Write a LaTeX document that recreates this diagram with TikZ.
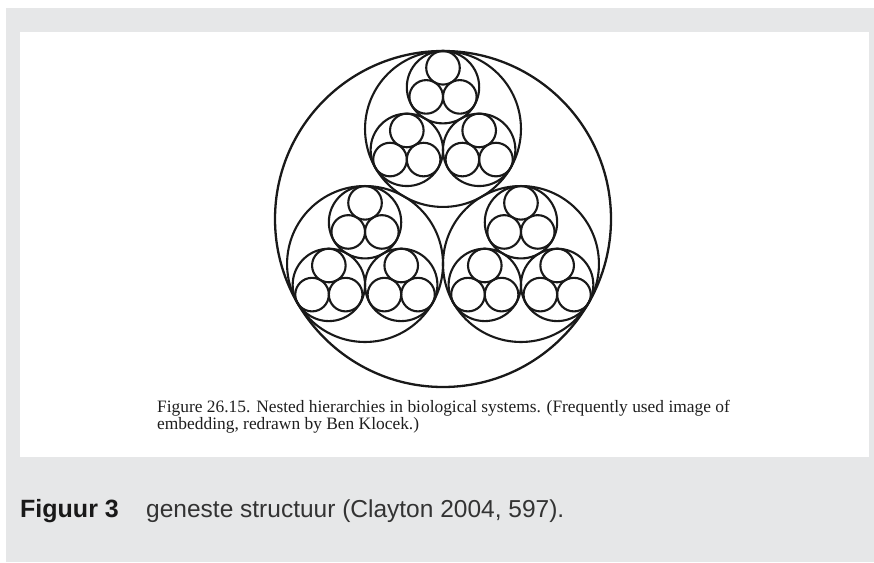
\documentclass[tikz,border=0pt]{standalone}
\usepackage{fontspec}
\setmainfont{Liberation Serif}
\newfontfamily\capsans{Liberation Sans}
\definecolor{panelgray}{HTML}{E6E7E8}
\tikzset{
  ring/.style={draw=black!90, line width=2.1pt},
  outerring/.style={draw=black!90, line width=2.3pt},
  scan/.style={font=\fontsize{17.4}{17}\selectfont, anchor=base west, inner sep=0pt, text=black!88},
  figlabel/.style={font=\capsans\bfseries\fontsize{25}{26}\selectfont, anchor=base west, inner sep=0pt, text=black!90},
  figtext/.style={font=\capsans\fontsize{24.5}{26}\selectfont, anchor=base west, inner sep=0pt, text=black!80}
}
\begin{document}
\begin{tikzpicture}[x=1pt,y=-1pt]
\useasboundingbox (0,0) rectangle (874,562);
\fill[white] (0,0) rectangle (874,562);
\fill[panelgray] (6,8) rectangle (874,562);
\fill[white] (20,32) rectangle (869,457);
\coordinate (C) at (443,219);
\draw[outerring] (C) circle[radius=168pt];
\foreach \a in {270,150,30}{
  \begin{scope}[shift={(C)}, shift={(\a:90.03)}]
    \draw[ring] (0,0) circle[radius=77.97pt];
    \foreach \b in {270,150,30}{
      \begin{scope}[shift={(\b:41.78)}]
        \draw[ring] (0,0) circle[radius=36.19pt];
        \foreach \c in {270,150,30}{
          \draw[ring] (\c:19.40) circle[radius=16.79pt];
        }
      \end{scope}
    }
  \end{scope}
}
\node[scan] (cap1) at (157,412) {Figure 26.15. Nested hierarchies in biological systems. (Frequently used image of};
\node[scan] (cap2) at (157,429) {embedding, redrawn by Ben Klocek.)};
\node[figlabel] (fig) at (20,517) {Figuur 3};
\node[figtext] (figt) at (146,517) {geneste structuur (Clayton 2004, 597).};
\end{tikzpicture}
\end{document}
